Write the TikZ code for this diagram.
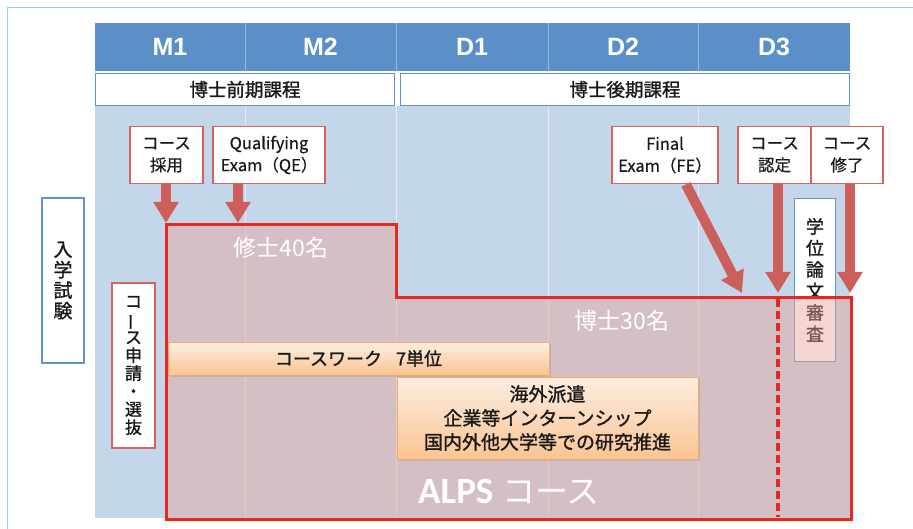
\documentclass[tikz,border=0pt]{standalone}
\usepackage{fontspec}
\setmainfont{Noto Sans CJK JP}
\newfontfamily\jpmed[FakeBold=1.2]{Noto Sans CJK JP}
\newfontfamily\jplt[FakeBold=0.5]{Noto Sans CJK JP}
\newfontfamily\hdrfont{Liberation Sans}
\newfontfamily\calfont{Carlito}
\usetikzlibrary{arrows.meta,shadows,calc}
\definecolor{hdrblue}{RGB}{91,143,200}
\definecolor{hdrline}{RGB}{150,185,225}
\definecolor{bgblue}{RGB}{196,214,234}
\definecolor{boxblue}{RGB}{96,146,206}
\definecolor{alpsred}{RGB}{232,40,30}
\definecolor{lblred}{RGB}{210,100,95}
\definecolor{arrred}{RGB}{205,95,90}
\definecolor{ovl}{RGB}{233,163,152}
\definecolor{orgtop}{RGB}{253,238,226}
\definecolor{orgbot}{RGB}{250,196,146}
\definecolor{orgedge}{RGB}{244,172,110}
\definecolor{framec}{RGB}{140,212,235}
\definecolor{txt}{RGB}{25,25,25}
\tikzset{
  hdrcell/.style={fill=hdrblue, draw=none, minimum width=150pt, minimum height=48pt, inner sep=0pt,
    text=white, font=\hdrfont\bfseries\fontsize{25}{25}\selectfont},
  subbox/.style={fill=white, draw=boxblue, line width=1.8pt, minimum height=32pt, inner sep=0pt,
    text=txt, font=\jpmed\fontsize{18.5}{19}\selectfont},
  lblbox/.style={fill=white, draw=lblred, line width=1.8pt, minimum height=57pt, inner sep=0pt,
    align=center, text=txt, font=\jplt\fontsize{16.5}{22}\selectfont},
  vbox/.style={fill=white, line width=1.8pt, inner sep=0pt, align=center, text=txt},
  orgbox/.style={top color=orgtop, bottom color=orgbot, draw=orgedge, line width=0.8pt, inner sep=0pt,
    align=center, text=txt, drop shadow={shadow xshift=1.5pt, shadow yshift=-2pt, opacity=0.25}},
  fatarrow/.style={draw=arrred, line width=10pt, -{Triangle[width=24pt,length=21pt]}, fill=arrred},
  wlabel/.style={text=white, inner sep=0pt},
  divline/.style={draw=white, draw opacity=0.55, line width=1pt}
}
\begin{document}
\begin{tikzpicture}[x=1pt,y=-1pt]
\useasboundingbox (0,0) rectangle (913,529);
% outer frame
\draw[framec, line width=1pt] (7,529) -- (7,8) -- (913,8);
% background
\fill[bgblue] (95,106) rectangle (850,518);
\foreach \xx in {245,396,548,698} \draw[divline] (\xx,106) -- (\xx,518);
% header
\node[hdrcell, minimum width=150pt] (m1) at (170,47) {M1};
\node[hdrcell, minimum width=151pt] (m2) at (320.5,47) {M2};
\node[hdrcell, minimum width=152pt] (d1) at (472,47) {D1};
\node[hdrcell, minimum width=150pt] (d2) at (623,47) {D2};
\node[hdrcell, minimum width=152pt] (d3) at (774,47) {D3};
\foreach \xx in {245,396,548,698} \draw[hdrline, line width=1pt] (\xx,23) -- (\xx,71);
% sub header
\node[subbox, minimum width=299pt] (pre) at (245,89.5) {博士前期課程};
\node[subbox, minimum width=449pt] (post) at (625,89.5) {博士後期課程};
% thesis review box (under overlay)
\node[vbox, draw=boxblue, line width=1.5pt, minimum width=41pt, minimum height=163pt,
  font=\jpmed\fontsize{18}{21.5}\selectfont] (gd) at (815,280) {学\\位\\論\\文\\審\\査};
% ALPS region
\fill[ovl, fill opacity=0.45] (166,225) -- (396,225) -- (396,298) -- (851,298) -- (851,519) -- (166,519) -- cycle;
\draw[alpsred, line width=3pt, line join=miter] (166,225) -- (396,225) -- (396,298) -- (851,298) -- (851,519) -- (166,519) -- cycle;
\coordinate (dtop) at (778,299);
\coordinate (dbot) at (778,517);
\draw[alpsred, line width=3.5pt, dash pattern=on 8pt off 4pt] (dtop) -- (dbot);
% white labels
\node[wlabel, font=\fontsize{23}{23}\selectfont] (ms) at (281,248) {修士40名};
\node[wlabel, font=\fontsize{23}{23}\selectfont] (dr) at (622,321) {博士30名};
\node[wlabel] (alps) at (509,492) {{\calfont\bfseries\fontsize{37}{37}\selectfont ALPS}\hspace{9pt}{\fontsize{33}{33}\selectfont コース}};
% orange boxes
\node[orgbox, minimum width=381pt, minimum height=33pt, font=\jpmed\fontsize{18}{20}\selectfont] (cw) at (358.5,358.5) {コースワーク\hspace{14pt}7単位};
\node[orgbox, minimum width=301pt, minimum height=82pt, font=\jpmed\fontsize{19}{24}\selectfont] (ab) at (547.5,418) {海外派遣\\企業等インターンシップ\\国内外他大学等での研究推進};
% left vertical boxes
\node[vbox, draw=boxblue, minimum width=42pt, minimum height=165pt, font=\jpmed\fontsize{19}{20.5}\selectfont] (ex) at (63,280.5) {入\\学\\試\\験};
\node[vbox, draw=lblred, minimum width=43pt, minimum height=165pt, font=\jpmed\fontsize{17}{18}\selectfont] (ap) at (133.5,365.5) {コ\\\rotatebox[origin=c]{90}{ー}\\ス\\申\\請\\・\\選\\抜};
% label boxes
\node[lblbox, minimum width=73pt] (cs) at (166.5,155) {コース\\採用};
\node[lblbox, minimum width=112pt] (qe) at (269,155) {Qualifying\\Exam（QE）};
\node[lblbox, minimum width=106pt] (fe) at (665,155) {Final\\Exam（FE）};
\node[lblbox, minimum width=73pt] (cn) at (774.5,155) {コース\\認定};
\node[lblbox, minimum width=72pt] (cf) at (847,155) {コース\\修了};
% arrows
\coordinate (t1) at (166,223);
\coordinate (t2) at (238,223);
\coordinate (t3) at (742,293);
\coordinate (t4) at (778,293);
\coordinate (t5) at (850,293);
\draw[fatarrow] (cs.south -| t1) -- (t1);
\draw[fatarrow] (qe.south -| t2) -- (t2);
\draw[fatarrow] ($(fe.south)+(21,0)$) -- (t3);
\draw[fatarrow] (cn.south -| t4) -- (t4);
\draw[fatarrow] (cf.south -| t5) -- (t5);
\end{tikzpicture}
\end{document}
